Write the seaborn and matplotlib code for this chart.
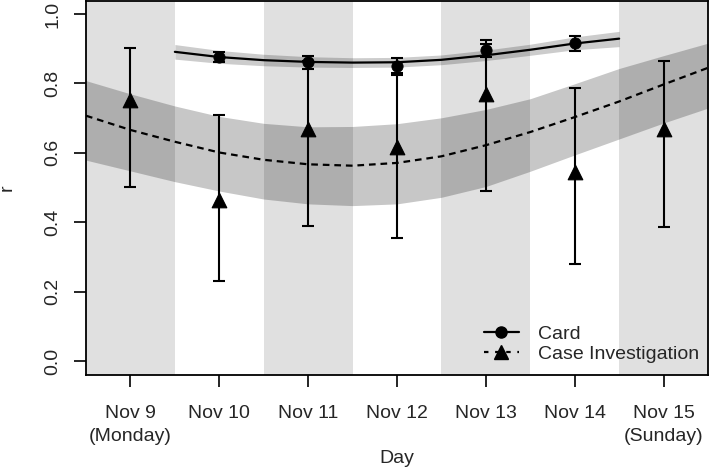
import matplotlib
matplotlib.use("Agg")
import matplotlib.pyplot as plt
from matplotlib.lines import Line2D
import numpy as np
import seaborn as sns

# observed points
day_labels = ["Nov 9\n(Monday)", "Nov 10", "Nov 11", "Nov 12", "Nov 13", "Nov 14", "Nov 15\n(Sunday)"]
case_days = [0, 1, 2, 3, 4, 5, 6]
case_r = [0.752, 0.464, 0.668, 0.617, 0.769, 0.545, 0.668]
case_lo = [0.501, 0.231, 0.389, 0.354, 0.490, 0.280, 0.387]
case_hi = [0.902, 0.709, 0.864, 0.824, 0.925, 0.787, 0.864]

card_days = [1, 2, 3, 4, 5]
card_r = [0.876, 0.861, 0.851, 0.896, 0.916]
card_lo = [0.861, 0.842, 0.830, 0.876, 0.893]
card_hi = [0.890, 0.879, 0.873, 0.914, 0.937]

# fitted curves with bands (read at half-day steps)
case_fit_x = [-0.5, 0, 0.5, 1, 1.5, 2, 2.5, 3, 3.5, 4, 4.5, 5, 5.5, 6, 6.5]
case_fit = [0.707, 0.666, 0.632, 0.601, 0.580, 0.567, 0.563, 0.571, 0.590, 0.622, 0.660, 0.703, 0.748, 0.797, 0.845]
case_fit_lo = [0.579, 0.548, 0.517, 0.490, 0.467, 0.453, 0.448, 0.453, 0.472, 0.503, 0.547, 0.594, 0.640, 0.686, 0.729]
case_fit_hi = [0.808, 0.770, 0.735, 0.705, 0.685, 0.675, 0.676, 0.684, 0.701, 0.725, 0.756, 0.799, 0.843, 0.880, 0.916]

card_fit_x = [0.5, 1, 1.5, 2, 2.5, 3, 3.5, 4, 4.5, 5, 5.5]
card_fit = [0.891, 0.876, 0.867, 0.862, 0.860, 0.861, 0.868, 0.881, 0.897, 0.915, 0.929]
card_fit_lo = [0.870, 0.858, 0.851, 0.847, 0.846, 0.847, 0.854, 0.866, 0.881, 0.897, 0.906]
card_fit_hi = [0.912, 0.895, 0.884, 0.877, 0.874, 0.875, 0.882, 0.896, 0.913, 0.934, 0.950]

shaded_days = [0, 2, 4, 6]

sns.set_theme(style="white")
plt.rcParams["font.family"] = ["Liberation Sans", "DejaVu Sans"]
plt.rcParams["font.size"] = 14

fig = plt.figure(figsize=(7.09, 4.69), dpi=100)
ax = fig.add_axes([0.1213, 0.2004, 0.8773, 0.7975])

for d in shaded_days:
    ax.axvspan(d - 0.5, d + 0.5, color="#e0e0e0", lw=0, zorder=0)

ax.fill_between(case_fit_x, case_fit_lo, case_fit_hi, color="black", alpha=0.22, lw=0, zorder=1)
ax.fill_between(card_fit_x, card_fit_lo, card_fit_hi, color="black", alpha=0.2, lw=0, zorder=1)

sns.lineplot(x=case_fit_x, y=case_fit, ax=ax, color="black", lw=1.6, zorder=2)
ax.lines[-1].set_dashes((3, 2.2))
sns.lineplot(x=card_fit_x, y=card_fit, ax=ax, color="black", lw=1.6, zorder=2)

case_err = [np.array(case_r) - np.array(case_lo), np.array(case_hi) - np.array(case_r)]
card_err = [np.array(card_r) - np.array(card_lo), np.array(card_hi) - np.array(card_r)]
ax.errorbar(case_days, case_r, yerr=case_err, fmt="none", ecolor="black", elinewidth=1.5, capsize=4.5, capthick=1.5, zorder=3)
ax.errorbar(card_days, card_r, yerr=card_err, fmt="none", ecolor="black", elinewidth=1.5, capsize=4.5, capthick=1.5, zorder=3)
sns.scatterplot(x=case_days, y=case_r, ax=ax, marker="^", s=110, color="black", edgecolor="black", zorder=4)
sns.scatterplot(x=card_days, y=card_r, ax=ax, marker="o", s=65, color="black", edgecolor="black", zorder=4)

ax.set_xlim(-0.5, 6.5)
ax.set_ylim(-0.04, 1.0375)
ax.set_xticks(range(len(day_labels)))
ax.set_xticklabels(day_labels, linespacing=1.45)
ax.set_yticks([0.0, 0.2, 0.4, 0.6, 0.8, 1.0])
ax.set_yticklabels(["0.0", "0.2", "0.4", "0.6", "0.8", "1.0"], rotation=90, va="center")
ax.tick_params(axis="both", direction="out", length=8.5, width=1.2, color="black", labelsize=14, bottom=True, left=True)
ax.tick_params(axis="x", pad=13)
ax.tick_params(axis="y", pad=9)
for s in ax.spines.values():
    s.set_color("black")
    s.set_linewidth(1.3)

ax.set_xlabel("Day", fontsize=14, labelpad=4)
ax.set_ylabel("r", fontsize=14)
ax.yaxis.set_label_coords(-0.113, 0.5)

handles = [
    Line2D([], [], color="black", lw=1.6, marker="o", markersize=8),
    Line2D([], [], color="black", lw=1.6, linestyle=(0, (2, 3)), marker="^", markersize=10),
]
ax.legend(handles, ["Card", "Case Investigation"], loc="lower right", bbox_to_anchor=(1.0, 0.01),
          frameon=False, fontsize=14, handlelength=1.8, handletextpad=1.0, labelspacing=0.1,
          borderaxespad=0.05)

fig.savefig("out.png", dpi=100)
